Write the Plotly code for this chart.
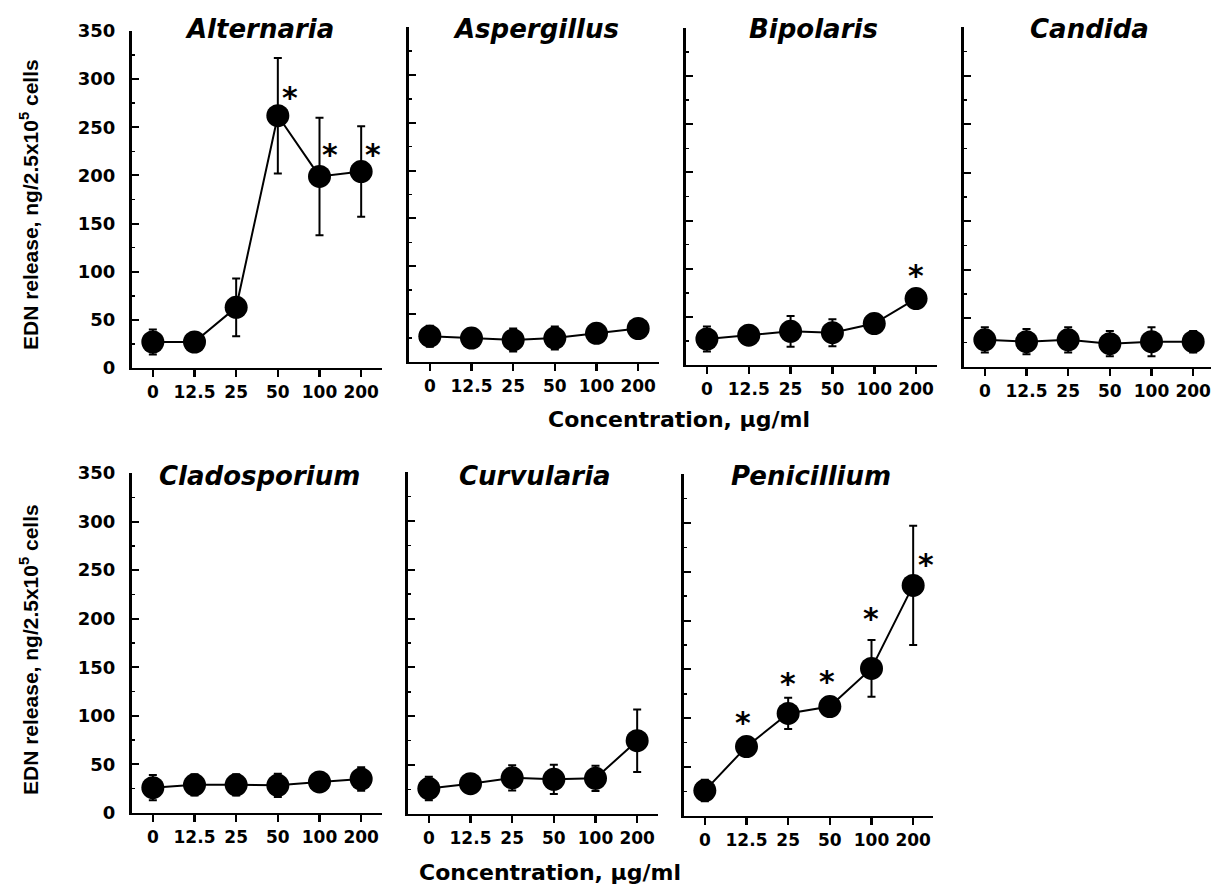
import plotly.graph_objects as go

W, H = 1211, 885

concentrations = ["0", "12.5", "25", "50", "100", "200"]

names = ["Alternaria", "Aspergillus", "Bipolaris", "Candida",
         "Cladosporium", "Curvularia", "Penicillium"]

alternaria_mean = [27, 27, 63, 262, 199, 204]
alternaria_err = [13, 9, 30, 60, 61, 47]
alternaria_sig = [False, False, False, True, True, True]

aspergillus_mean = [27, 25, 23, 25, 30, 35]
aspergillus_err = [11, 6, 12, 12, 5, 4]
aspergillus_sig = [False] * 6

bipolaris_mean = [27, 31, 35, 33.5, 43, 69]
bipolaris_err = [13, 6, 16, 14, 5, 4]
bipolaris_sig = [False, False, False, False, False, True]

candida_mean = [28, 26, 28, 24, 26, 26]
candida_err = [13, 13, 13, 13, 15, 11]
candida_sig = [False] * 6

cladosporium_mean = [26, 29, 29, 28.5, 32, 35]
cladosporium_err = [13, 11, 11, 12, 9, 12]
cladosporium_sig = [False] * 6

curvularia_mean = [26, 31, 37, 35.5, 36.5, 75]
curvularia_err = [12, 8, 13, 15, 13, 32]
curvularia_sig = [False] * 6

penicillium_mean = [26, 71, 105, 112, 151, 236]
penicillium_err = [11, 5, 16, 5, 29, 61]
penicillium_sig = [False, True, True, True, True, True]

means = [alternaria_mean, aspergillus_mean, bipolaris_mean, candida_mean,
         cladosporium_mean, curvularia_mean, penicillium_mean]
errs = [alternaria_err, aspergillus_err, bipolaris_err, candida_err,
        cladosporium_err, curvularia_err, penicillium_err]
sigs = [alternaria_sig, aspergillus_sig, bipolaris_sig, candida_sig,
        cladosporium_sig, curvularia_sig, penicillium_sig]

# ---- layout (pixel geometry) ----
# (left, right, top, bottom) in pixels for each panel
boxes = [
    (132, 382, 31, 368),
    (409, 659, 27, 362),
    (686, 937, 28, 365),
    (964, 1211, 27, 367),
    (132, 382, 473, 813),
    (408, 658, 472, 814),
    (684, 933, 474, 816),
]
# asterisk pixel offsets from point centre (dx, dy up)
star_off = {
    (0, 3): (12, 21), (0, 4): (10, 25), (0, 5): (12, 20),
    (2, 5): (0, 26),
    (6, 1): (-4, 27), (6, 2): (0, 33), (6, 3): (-3, 28), (6, 4): (-1, 53), (6, 5): (13, 24),
}
GLYPH = 3  # asterisk glyph sits above text-box centre

tick_font = dict(family="DejaVu Sans", size=17, color="black", weight="bold")
ytick_font = dict(family="DejaVu Sans", size=18, color="black", weight="bold")

fig = go.Figure()
layout = dict(width=W, height=H, margin=dict(l=0, r=0, t=0, b=0, pad=0),
              template="none",
              paper_bgcolor="white", plot_bgcolor="white", showlegend=False)
annotations = []

for i, name in enumerate(names):
    k = i + 1
    L, R, T, B = boxes[i]
    xs = "" if k == 1 else str(k)
    fig.add_trace(go.Scatter(
        x=concentrations, y=means[i], mode="lines+markers",
        xaxis="x" + xs, yaxis="y" + xs,
        line=dict(color="black", width=2),
        marker=dict(color="black", size=23),
        error_y=dict(type="data", array=errs[i], visible=True,
                     color="black", thickness=2, width=4),
        cliponaxis=False,
    ))
    xr = [-0.5, 5.5] if R - L >= 250 else [-0.5, -0.5 + (R - L) / (250 / 6)]
    layout["xaxis" + xs] = dict(
        domain=[L / W, R / W], anchor="y" + xs, type="category",
        categoryorder="array", categoryarray=concentrations, range=xr,
        showline=True, linecolor="black", linewidth=2,
        ticks="outside", ticklen=7, tickwidth=2.5, tickcolor="black",
        tickfont=tick_font, showgrid=False, zeroline=False,
        ticklabelstandoff=1, automargin=False,
    )
    layout["yaxis" + xs] = dict(
        domain=[1 - B / H, 1 - T / H], anchor="x" + xs, range=[0, 350],
        showline=True, linecolor="black", linewidth=3,
        ticks="inside", ticklen=7, tickwidth=2, tickcolor="black",
        tick0=0, dtick=50,
        minor=dict(dtick=25, ticks="inside", ticklen=3, tickwidth=1.5, tickcolor="black"),
        showticklabels=(i in (0, 4)), tickfont=ytick_font,
        showgrid=False, zeroline=False, ticklabelstandoff=10, automargin=False,
    )
    # panel title
    title_y = 29 if i < 4 else 476
    annotations.append(dict(
        text="<i>" + name + "</i>", xref="paper", yref="paper",
        x=((L + R) / 2 + 2) / W, y=1 - title_y / H,
        xanchor="center", yanchor="middle", showarrow=False,
        font=dict(family="DejaVu Sans", size=26, color="black", weight="bold"),
    ))
    # significance stars (x given as category index on the category axis)
    for j, s in enumerate(sigs[i]):
        if s:
            dx, dy = star_off[(i, j)]
            annotations.append(dict(
                text="*", xref="x" + xs, yref="y" + xs,
                x=j, y=means[i][j],
                xshift=dx, yshift=dy - GLYPH, showarrow=False,
                xanchor="center", yanchor="middle",
                font=dict(family="DejaVu Sans", size=30, color="black", weight="bold"),
            ))

# y-axis titles
for yc in (205, 650):
    annotations.append(dict(
        text="EDN release, ng/2.5x10<sup>5</sup> cells", xref="paper", yref="paper",
        x=29 / W, y=1 - yc / H, textangle=-90, showarrow=False,
        xanchor="center", yanchor="middle",
        font=dict(family="Liberation Sans", size=21, color="black", weight="bold"),
    ))
# x-axis titles
for xc, yc in ((679, 419), (550, 872)):
    annotations.append(dict(
        text="Concentration, \u00b5g/ml", xref="paper", yref="paper",
        x=xc / W, y=1 - yc / H, showarrow=False,
        xanchor="center", yanchor="middle",
        font=dict(family="DejaVu Sans", size=22, color="black", weight="bold"),
    ))

layout["annotations"] = annotations
fig.update_layout(**layout)
fig.write_html("out.html",
               config={"displayModeBar": False, "staticPlot": True},
               post_script="document.body.style.margin='0';document.body.style.overflow='hidden';")
